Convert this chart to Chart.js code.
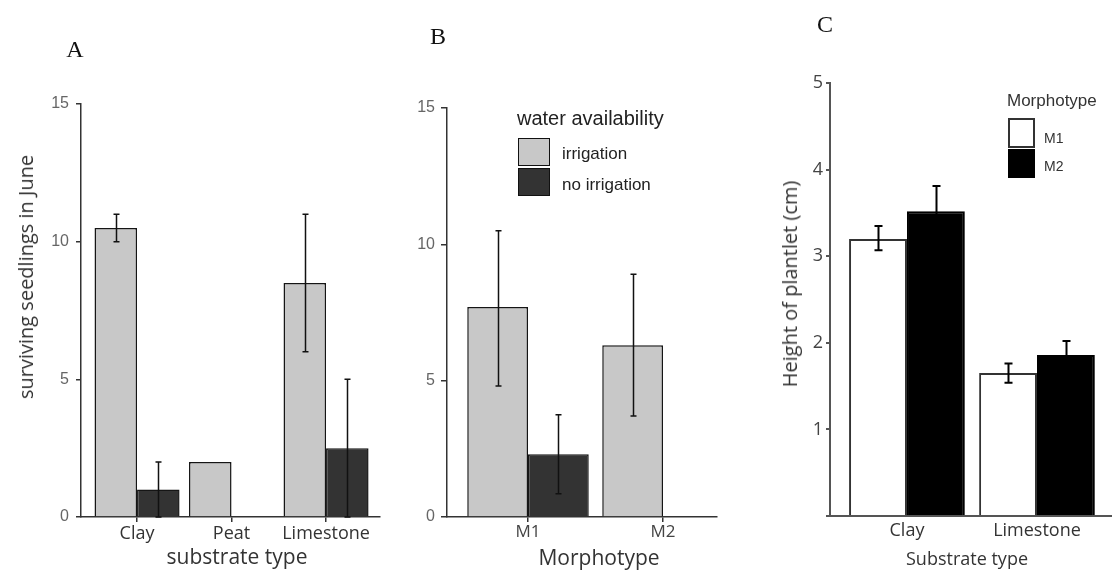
<!DOCTYPE html>
<html>
<head>
<meta charset="utf-8">
<script src="https://cdn.jsdelivr.net/npm/chart.js@4.4.1/dist/chart.umd.min.js"></script>
<style>
    html, body { margin: 0; padding: 0; background: #fff; }
    #wrap { position: relative; width: 1112px; height: 571px; overflow: hidden; }
    canvas { position: absolute; top: 0; }
    .t { position: absolute; white-space: nowrap; line-height: 1; transform: translate(-50%, -50%); }
    .l { position: absolute; white-space: nowrap; line-height: 1; transform: translateY(-50%); }
    .v { position: absolute; white-space: nowrap; line-height: 1; transform: translate(-50%, -50%) rotate(-90deg); }
    .sw { position: absolute; box-sizing: border-box; }
    .panel { font-family: 'Liberation Serif', serif; font-size: 24px; color: #111; }
    .sego { font-family: 'Open Sans', sans-serif; color: #333; }
    .arial { font-family: 'Liberation Sans', Arial, sans-serif; color: #222; }
</style>
</head>
<body>
<div id="wrap">
    <canvas id="chartA" width="382" height="571" style="left:0px"></canvas>
    <canvas id="chartB" width="334" height="571" style="left:385px"></canvas>
    <canvas id="chartC" width="367" height="571" style="left:745px"></canvas>

    <div class="t panel" style="left:75px;top:49px">A</div>
    <div class="t panel" style="left:438px;top:36px">B</div>
    <div class="t panel" style="left:825px;top:24px">C</div>

    <div class="v sego" style="left:26px;top:277px;font-size:20px">surviving seedlings in June</div>
    <div class="t sego" style="left:237px;top:556px;font-size:21px">substrate type</div>
    <div class="t sego" style="left:599px;top:557px;font-size:21px">Morphotype</div>
    <div class="v sego" style="left:790px;top:284px;font-size:20px">Height of plantlet (cm)</div>
    <div class="t sego" style="left:967px;top:558px;font-size:18px">Substrate type</div>

    <div id="legendB"></div>
    <div id="legendC"></div>
</div>

<script>
/**
 * Three bar panels with error bars:
 * A - surviving seedlings by substrate, B - by morphotype, C - plantlet height
 */

// Panel A: surviving seedlings in June by substrate type
const substratesA = ['Clay', 'Peat', 'Limestone'];
const irrigationA = [10.5, 2.0, 8.5];
const irrigationLowA = [10.0, null, 6.0];
const irrigationHighA = [11.0, null, 11.0];
const noIrrigationA = [1.0, null, 2.5];
const noIrrigationLowA = [0, null, 0];
const noIrrigationHighA = [2.0, null, 5.0];
const yTicksA = [0, 5, 10, 15];

// Panel B: surviving seedlings by morphotype
const morphotypesB = ['M1', 'M2'];
const irrigationB = [7.7, 6.3];
const irrigationLowB = [4.8, 3.7];
const irrigationHighB = [10.5, 8.9];
const noIrrigationB = [2.3, null];
const noIrrigationLowB = [0.85, null];
const noIrrigationHighB = [3.75, null];
const yTicksB = [0, 5, 10, 15];

// Panel C: height of plantlet (cm) by substrate type
const substratesC = ['Clay', 'Limestone'];
const heightM1 = [3.2, 1.65];
const heightLowM1 = [3.07, 1.54];
const heightHighM1 = [3.35, 1.76];
const heightM2 = [3.52, 1.86];
const heightLowM2 = [3.23, 1.70];
const heightHighM2 = [3.81, 2.02];
const yTicksC = [0, 1, 2, 3, 4, 5];

const waterLabels = ['irrigation', 'no irrigation'];
const morphLabels = ['M1', 'M2'];

const GREY = '#c8c8c8';
const DARK = '#333333';

const toPoints = (values) => values.map((v, i) => ({ x: i, y: v }));

// Draws mean +/- error whiskers on top of each bar
const errorBarsPlugin = {
    id: 'errorBars',
    afterDatasetsDraw(chart, args, opts) {
        const ctx = chart.ctx;
        const yScale = chart.scales.y;
        chart.data.datasets.forEach((ds, i) => {
            if (!ds.errLow) return;
            const meta = chart.getDatasetMeta(i);
            meta.data.forEach((bar, j) => {
                const lo = ds.errLow[j];
                const hi = ds.errHigh[j];
                if (lo == null || hi == null) return;
                const x = Math.round(bar.x) + 0.5;
                const y1 = yScale.getPixelForValue(lo);
                const y2 = yScale.getPixelForValue(hi);
                ctx.save();
                ctx.strokeStyle = opts.color;
                ctx.lineWidth = opts.width;
                ctx.beginPath();
                ctx.moveTo(x, y1);
                ctx.lineTo(x, y2);
                ctx.moveTo(x - opts.cap, y1);
                ctx.lineTo(x + opts.cap, y1);
                ctx.moveTo(x - opts.cap, y2);
                ctx.lineTo(x + opts.cap, y2);
                ctx.stroke();
                ctx.restore();
            });
        });
    }
};

function createPanel(canvasId, p) {
    return new Chart(document.getElementById(canvasId), {
        type: 'bar',
        data: { datasets: p.datasets },
        options: {
            responsive: false,
            animation: false,
            events: [],
            layout: { padding: { top: p.top, right: p.right, left: 0, bottom: 0 } },
            datasets: { bar: { categoryPercentage: p.catPct, barPercentage: 1.0 } },
            plugins: {
                legend: { display: false },
                tooltip: { enabled: false },
                errorBars: p.err
            },
            scales: {
                x: {
                    type: 'linear',
                    min: p.xMin,
                    max: p.xMax,
                    offset: false,
                    afterBuildTicks: (s) => { s.ticks = p.cats.map((c, i) => ({ value: i })); },
                    afterFit: (s) => { s.height = p.xHeight; },
                    ticks: {
                        autoSkip: false,
                        maxRotation: 0,
                        padding: p.xPad,
                        color: p.xColor,
                        font: { family: 'Open Sans', size: p.xSize },
                        callback: (v) => p.cats[v]
                    },
                    grid: {
                        display: p.xTick > 0,
                        offset: false,
                        drawOnChartArea: false,
                        tickLength: p.xTick,
                        color: p.axisColor,
                        lineWidth: p.axisWidth
                    },
                    border: { display: true, color: p.axisColor, width: p.axisWidth }
                },
                y: {
                    min: 0,
                    max: p.yTicks[p.yTicks.length - 1],
                    afterBuildTicks: (s) => { s.ticks = p.yTicks.map(v => ({ value: v })); },
                    afterFit: (s) => { s.width = p.yWidth; },
                    ticks: {
                        padding: p.yPad,
                        color: p.yColor,
                        font: { family: p.yFont, size: p.ySize },
                        callback: (v) => (v === 0 && p.hideZero) ? '' : String(v)
                    },
                    grid: {
                        drawOnChartArea: false,
                        tickLength: p.yTick,
                        color: p.axisColor,
                        lineWidth: p.axisWidth
                    },
                    border: { display: true, color: p.axisColor, width: p.axisWidth }
                }
            }
        },
        plugins: [errorBarsPlugin]
    });
}

createPanel('chartA', {
    cats: substratesA,
    datasets: [
        { label: waterLabels[0], data: toPoints(irrigationA), errLow: irrigationLowA, errHigh: irrigationHighA,
          backgroundColor: GREY, borderColor: '#151515', borderWidth: 1.5 },
        { label: waterLabels[1], data: toPoints(noIrrigationA), errLow: noIrrigationLowA, errHigh: noIrrigationHighA,
          backgroundColor: DARK, borderColor: '#151515', borderWidth: 1.5 }
    ],
    top: 104, right: 2, xHeight: 54, yWidth: 81,
    xMin: -0.593, xMax: 2.571, catPct: 0.9,
    xTick: 5, xPad: 1, xSize: 18, xColor: '#333',
    yTicks: yTicksA, yTick: 5, yPad: 7, yFont: 'Liberation Sans', ySize: 16, yColor: '#666',
    axisColor: '#333', axisWidth: 1.5,
    err: { color: '#111', width: 1.5, cap: 3 }
});

createPanel('chartB', {
    cats: morphotypesB,
    datasets: [
        { label: waterLabels[0], data: toPoints(irrigationB), errLow: irrigationLowB, errHigh: irrigationHighB,
          backgroundColor: GREY, borderColor: '#151515', borderWidth: 1.5 },
        { label: waterLabels[1], data: toPoints(noIrrigationB), errLow: noIrrigationLowB, errHigh: noIrrigationHighB,
          backgroundColor: DARK, borderColor: '#151515', borderWidth: 1.5 }
    ],
    top: 108, right: 2, xHeight: 54, yWidth: 62,
    xMin: -0.6, xMax: 1.4, catPct: 0.9,
    xTick: 5, xPad: 0, xSize: 17, xColor: '#444',
    yTicks: yTicksB, yTick: 6, yPad: 6, yFont: 'Liberation Sans', ySize: 16, yColor: '#666',
    axisColor: '#333', axisWidth: 1.5,
    err: { color: '#111', width: 1.5, cap: 3 }
});

createPanel('chartC', {
    cats: substratesC,
    datasets: [
        { label: morphLabels[0], data: toPoints(heightM1), errLow: heightLowM1, errHigh: heightHighM1,
          backgroundColor: '#ffffff', borderColor: '#333', borderWidth: 2 },
        { label: morphLabels[1], data: toPoints(heightM2), errLow: heightLowM2, errHigh: heightHighM2,
          backgroundColor: '#000000', borderColor: '#000000', borderWidth: 2 }
    ],
    top: 83, right: 0, xHeight: 55, yWidth: 85,
    xMin: -0.592, xMax: 1.577, catPct: 0.89,
    xTick: 0, xPad: 4, xSize: 18, xColor: '#333',
    yTicks: yTicksC, yTick: 4, yPad: 3, yFont: 'Open Sans', ySize: 18, yColor: '#444', hideZero: true,
    axisColor: '#555', axisWidth: 2,
    err: { color: '#000', width: 2, cap: 4 }
});

// HTML legends built from the series names
function buildLegend(el, title, titleStyle, items) {
    let html = `<div class="l arial" style="${titleStyle}">${title}</div>`;
    items.forEach(it => {
        html += `<div class="sw" style="left:${it.x}px;top:${it.y}px;width:${it.w}px;height:${it.h}px;background:${it.fill};border:${it.border}"></div>`;
        html += `<div class="l arial" style="left:${it.tx}px;top:${it.ty}px;font-size:${it.size}px;color:${it.color}">${it.label}</div>`;
    });
    el.innerHTML = html;
}

buildLegend(document.getElementById('legendB'), 'water availability',
    'left:517px;top:118px;font-size:20px', [
        { label: waterLabels[0], x: 518, y: 138, w: 32, h: 28, fill: GREY, border: '1.5px solid #111', tx: 562, ty: 153, size: 17, color: '#222' },
        { label: waterLabels[1], x: 518, y: 168, w: 32, h: 28, fill: DARK, border: '1.5px solid #111', tx: 562, ty: 184, size: 17, color: '#222' }
    ]);

buildLegend(document.getElementById('legendC'), 'Morphotype',
    'left:1007px;top:100px;font-size:17px;color:#333', [
        { label: morphLabels[0], x: 1008, y: 118, w: 27, h: 30, fill: '#fff', border: '2px solid #333', tx: 1044, ty: 138, size: 14, color: '#333' },
        { label: morphLabels[1], x: 1008, y: 149, w: 27, h: 29, fill: '#000', border: '2px solid #000', tx: 1044, ty: 166, size: 14, color: '#333' }
    ]);
</script>
</body>
</html>
